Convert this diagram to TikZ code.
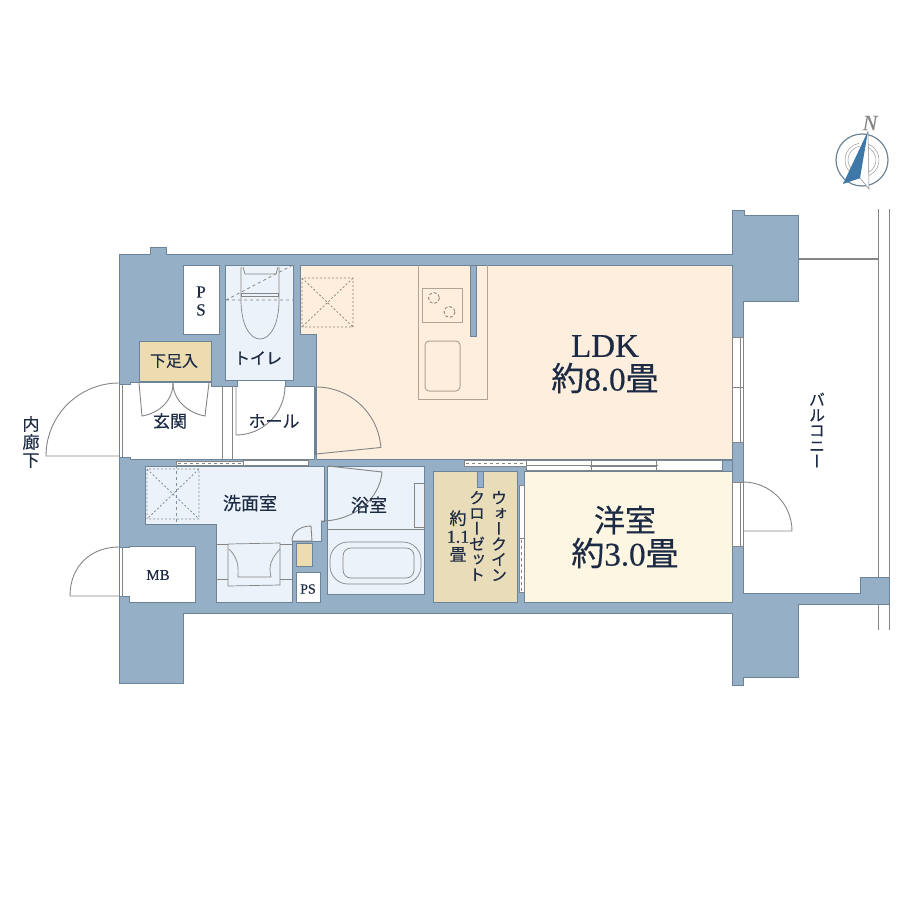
\documentclass[tikz,border=0pt]{standalone}
\usepackage{fontspec}
\setmainfont{Liberation Serif}[FakeBold=0.35]
\newfontfamily\cjk{Noto Sans CJK JP}[FakeBold=0.35]
\newfontfamily\cjkv{Noto Sans CJK JP}[RawFeature=+vert, FakeBold=0.35]
\definecolor{wallblue}{HTML}{94AFC6}
\definecolor{wallline}{HTML}{6D8398}
\definecolor{inkblue}{HTML}{1C2A44}
\definecolor{ldkfill}{HTML}{FDEEDD}
\definecolor{roomfill}{HTML}{FDF6E2}
\definecolor{closetfill}{HTML}{E9DCB9}
\definecolor{shoefill}{HTML}{ECDCB0}
\definecolor{wetfill}{HTML}{ECF2F9}
\definecolor{fixline}{HTML}{858585}
\definecolor{kitline}{HTML}{B0A498}
\definecolor{dotbrown}{HTML}{96857A}
\definecolor{dotblue}{HTML}{7E8DA0}
\definecolor{needle}{HTML}{3E78A8}
\tikzset{
  wall/.style={fill=wallblue, draw=wallline, line width=.9pt},
  room/.style={draw=wallline, line width=.9pt},
  doorline/.style={draw=fixline, line width=.9pt},
  fixture/.style={draw=fixline, line width=.7pt},
  sash/.style={fill=white, draw=fixline, line width=.6pt},
  label/.style={text=inkblue, inner sep=0pt, font=\cjk\fontsize{16}{18}\selectfont},
  biglabel/.style={text=inkblue, inner sep=0pt, font=\fontsize{33}{33}\selectfont},
  tatelabel/.style={text=inkblue, inner sep=0pt, align=center, font=\cjkv\fontsize{16}{15.4}\selectfont},
}
\begin{document}
\begin{tikzpicture}[x=1pt, y=-1pt]
\useasboundingbox (0,0) rectangle (920,920);
% balcony rails
\draw[doorline] (878,209) -- (878,630);
\draw[doorline] (889,209) -- (889,630);
\draw[fixline, line width=2pt] (798,259) -- (878,259);
% walls
\draw[wall] (119,254) -- (150,254) -- (150,247) -- (166,247) -- (166,254) -- (732,254) -- (732,210) -- (744,210) -- (744,215) -- (798,215) -- (798,301) -- (743,301) -- (743,593) -- (860,593) -- (860,577) -- (889,577) -- (889,604) -- (798,604) -- (798,677) -- (743,677) -- (743,685) -- (732,685) -- (732,613) -- (183,613) -- (183,683) -- (119,683) -- cycle;
% rooms
\draw[room, fill=ldkfill] (300,265) -- (732,265) -- (732,459) -- (316,459) -- (316,334) -- (300,334) -- cycle;
\draw[room, fill=roomfill] (524,471) rectangle (732,602);
\draw[room, fill=closetfill] (433,471) rectangle (517,602);
\draw[wall] (477,471) rectangle (483,487);
\draw[wall] (470,265) rectangle (476,336);
\draw[room, fill=white] (183,265) rectangle (219,334);
\draw[room, fill=wetfill] (225,265) rectangle (293,380);
\draw[room, fill=shoefill] (139,341) rectangle (211,381);
\draw[room, fill=white] (119,384) -- (130,384) -- (130,382) -- (211,382) -- (211,386) -- (237,386) -- (237,380) -- (285,380) -- (285,386) -- (314,386) -- (314,453) -- (314,459) -- (130,459) -- (130,457) -- (119,457) -- cycle;
\fill[white] (238,380.5) rectangle (284,387);
\draw[wallline, line width=1.6pt] (315,387) -- (315,455);
\draw[room, fill=wetfill] (145,466) -- (324,466) -- (324,521) -- (321,521) -- (321,541) -- (292,541) -- (292,602) -- (216,602) -- (216,524) -- (145,524) -- cycle;
\draw[room, fill=wetfill] (327,466) rectangle (424,594);
\draw[room, fill=white] (296,572) rectangle (320,602);
\draw[room, fill=shoefill] (296,543) rectangle (312,566);
\draw[room, fill=white] (129,596) -- (129,602) -- (195,602) -- (195,546) -- (129,546) -- (129,547) -- (119,547) -- (119,596) -- cycle;
% openings
\draw[sash] (464,460) rectangle (526,466);
\draw[dashed, fixline, line width=.8pt] (466,463) -- (526,463);
\draw[sash] (526,460) rectangle (722,470);
\draw[fixline, line width=.6pt] (526,465) -- (658,465) (590,466) -- (656,466);
\draw[fixline, line width=.7pt] (591,461) -- (591,470) (656,461) -- (656,470);
\draw[sash] (176,461) rectangle (243,465);
\draw[dashed, fixline, line width=.8pt] (178,463) -- (243,463);
\draw[sash] (243,460) rectangle (308,465);
\draw[sash] (519,485) rectangle (524,538);
\draw[sash] (519,538) rectangle (524,592);
\draw[dashed, fixline, line width=.8pt] (521.5,540) -- (521.5,592);
\draw[sash] (732,337) rectangle (743,442);
\draw[fixline, line width=.6pt] (740,337) -- (740,442) (732,387) -- (743,387);
\draw[sash] (732,482) rectangle (743,546);
\draw[fixline, line width=.6pt] (740,482) -- (740,546);
\draw[wall] (732,460) -- (722,460) -- (722,471) -- (732,471) -- cycle;
\draw[fixline, line width=.7pt] (222,386) -- (222,459) (232,386) -- (232,459);
\draw[fixline, line width=.7pt] (122,384) -- (122,457);
\draw[fixline, line width=.7pt] (122,547) -- (122,596);
% doors
\draw[doorline] (119,383) arc (-90:-180:73) -- (119,456);
\draw[doorline] (119,547) .. controls (92,547) and (70,565) .. (70,596) -- (119,596);
\draw[doorline] (139,383) -- (142,416) .. controls (160,413) and (173,400) .. (173,383);
\draw[doorline] (209,383) -- (205,416) .. controls (188,413) and (173,400) .. (173,383);
\draw[doorline] (236,386) -- (236,435) arc (90:0:49);
\draw[doorline] (316,387) arc (-90:-4:65) -- (316,454);
\draw[doorline] (328,466) -- (382,472) .. controls (380,498) and (355,521) .. (321,521);
\draw[doorline] (292,541) .. controls (292,532) and (300,526) .. (311,526) -- (312,541) -- (292,541);
\draw[doorline] (743,482) arc (-90:0:49) -- (743,531);
% kitchen
\draw[kitline, line width=1pt] (418,265) -- (418,399) -- (487,399) -- (487,265);
\draw[kitline, line width=1pt] (422,288) rectangle (462,322);
\draw[kitline, line width=1pt, rounded corners=4pt] (425,341) rectangle (460,391);
\draw[dotbrown, densely dashed, line width=.9pt] (434,298) circle (5.5);
\draw[dotbrown, densely dashed, line width=.9pt] (449.5,312) circle (5.5);
\draw[dotbrown, dash pattern=on 2pt off 2pt, line width=.8pt] (302,278) rectangle (353,327) (302,278) -- (353,327) (353,278) -- (302,327);
% toilet
\draw[fixture] (241,267) -- (241,300) .. controls (241,325) and (250,339) .. (260,339) .. controls (270,339) and (279,325) .. (279,300) -- (279,267);
\draw[fixture] (243,267) -- (245,274) -- (276,274) -- (278,267);
\draw[fixture] (241,293) rectangle (278,296);
\draw[dashed, fixline, line width=.8pt] (226,300) -- (293,300) (226,300) -- (293,265);
% washroom
\draw[dotblue, dash pattern=on 2pt off 2pt, line width=.8pt] (147,469) rectangle (199,519) (147,469) -- (199,519) (199,469) -- (147,519);
\draw[dashed, dotblue, line width=.8pt] (176,465) -- (176,522);
\draw[fixture] (216,544) -- (292,544) (216,579) -- (292,579);
\fill[wetfill] (228,543) rectangle (280,586);
\draw[fixture] (228,544) -- (280,543) -- (280,585) -- (228,586) -- cycle;
\draw[fixture] (229,549) .. controls (240,560) and (238,570) .. (238,577) -- (271,577) .. controls (268,565) and (272,558) .. (280,549);
% bath
\draw[fixture] (327,529) -- (424,529);
\draw[fixture] (414,483) rectangle (424,527);
\draw[fixture, rounded corners=18pt] (330,542) rectangle (421,584);
\draw[fixture, rounded corners=8pt] (343,548) rectangle (414,578);
% compass
\draw[wallline, line width=1.2pt] (862,160) circle (26);
\draw[fixline, line width=.4pt] (862,160) ++(100:17) arc (100:260:17);
\draw[fixline, line width=.4pt] (862,160) ++(100:14) arc (100:260:14);
\draw[fixline, line width=.4pt] (862,160) ++(-80:17) arc (-80:80:17);
\draw[fixline, line width=.4pt] (862,160) ++(-80:14) arc (-80:80:14);
\fill[white] (868,131) -- (869,189) -- (860,178) -- cycle;
\draw[fixline, line width=.5pt] (868,131) -- (869,189) -- (860,178) -- (843,183);
\fill[needle] (868,131) -- (843,184) -- (860,178) -- cycle;
\node[text=fixline, inner sep=0pt, font=\itshape\fontsize{22}{22}\selectfont] (north) at (870,123) {N};
% labels
\node[biglabel] (ldk) at (605,346) {LDK};
\node[biglabel] (ldksize) at (605,378) {{\cjk 約}8.0{\cjk 畳}};
\node[biglabel, font=\cjk\fontsize{31}{31}\selectfont] (yoshitsu) at (625,520) {洋室};
\node[biglabel] (yoshitsusize) at (625,553) {{\cjk 約}3.0{\cjk 畳}};
\node[tatelabel] (wic1) at (499,536) {ウ\\ォ\\ー\\ク\\イ\\ン};
\node[tatelabel] (wic2) at (477,536) {ク\\ロ\\ー\\ゼ\\ッ\\ト};
\node[label, align=center, font=\cjk\fontsize{17}{18}\selectfont] (wic3) at (458,536) {約\\{\rmfamily\fontsize{18}{18}\selectfont 1.1}\\畳};
\node[label] (toilet) at (258,358) {トイレ};
\node[label] (getabako) at (174,361) {下足入};
\node[label, font=\cjk\fontsize{17}{18}\selectfont] (genkan) at (170,421) {玄関};
\node[label, font=\cjk\fontsize{17}{18}\selectfont] (hall) at (274,421) {ホール};
\node[label, align=center, font=\fontsize{17}{18}\selectfont] (psone) at (201,301) {P\\S};
\node[label, font=\cjk\fontsize{18}{18}\selectfont] (senmen) at (250,503) {洗面室};
\node[label, font=\cjk\fontsize{18}{18}\selectfont] (yokushitsu) at (369,505) {浴室};
\node[label, font=\fontsize{15}{15}\selectfont] (mb) at (158,575) {MB};
\node[label, font=\fontsize{14}{14}\selectfont] (pstwo) at (308,589) {PS};
\node[tatelabel, font=\cjkv\fontsize{17}{18}\selectfont] (rouka) at (31,442) {内\\廊\\下};
\node[tatelabel] (balcony) at (817,430) {バ\\ル\\コ\\ニ\\ー};
\end{tikzpicture}
\end{document}
